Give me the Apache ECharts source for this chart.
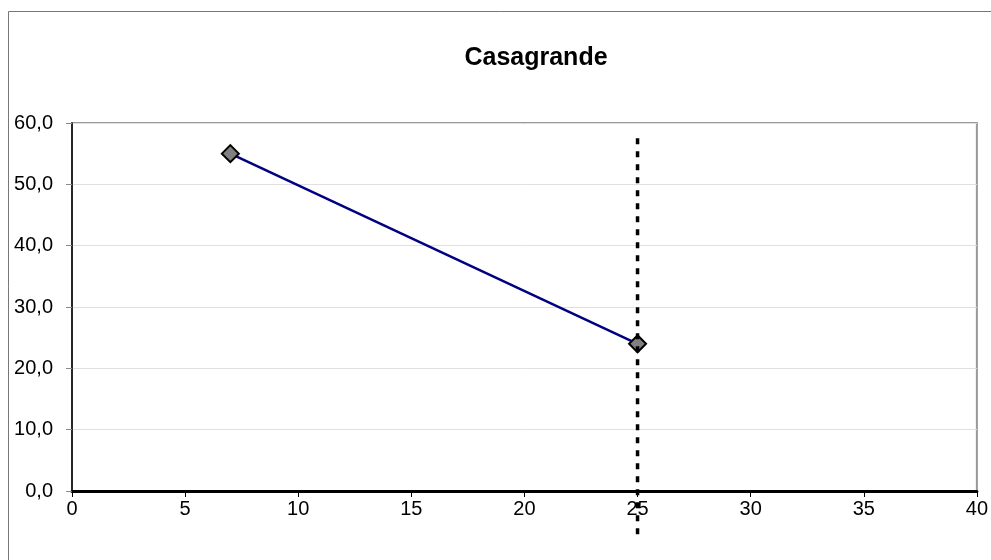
<!DOCTYPE html>
<html>
<head>
<meta charset="utf-8">
<script src="https://cdn.jsdelivr.net/npm/echarts@6/dist/echarts.min.js"></script>
<style>html,body{margin:0;padding:0;background:#fff}#c{width:991px;height:560px}</style>
</head>
<body>
<div id="c"></div>
<script>
var titleText = "Casagrande";
var xValues = [7, 25];
var yValues = [55, 24];
var limitX = [25, 25];
var limitY = [57.5, -7.5];

var chart = echarts.init(document.getElementById('c'));
chart.setOption({
  animation: false,
  backgroundColor: '#fff',
  title: {
    text: titleText, left: 531, top: 41, textAlign: 'center',
    textStyle: {fontFamily: 'Liberation Sans, Arial', fontSize: 25, fontWeight: 'bold', color: '#000'}
  },
  graphic: [{
    type: 'rect', shape: {x: 8.5, y: 11.5, width: 1000, height: 600},
    style: {fill: 'none', stroke: '#777', lineWidth: 1}, z: 0
  }],
  grid: {left: 72, right: 14, top: 123, bottom: 69, show: true, borderColor: '#999', borderWidth: 2},
  xAxis: {
    type: 'value', min: 0, max: 40, interval: 5,
    axisLine: {show: true, onZero: true, lineStyle: {color: '#000', width: 3}},
    axisTick: {show: true, length: 6, lineStyle: {color: '#000'}},
    axisLabel: {fontFamily: 'Liberation Sans, Arial', fontSize: 20, color: '#000', margin: 8},
    splitLine: {show: false}
  },
  yAxis: {
    type: 'value', min: 0, max: 60, interval: 10,
    axisLine: {show: true, lineStyle: {color: '#000', width: 1.5}},
    axisTick: {show: true, length: 6, lineStyle: {color: '#888'}},
    axisLabel: {fontFamily: 'Liberation Sans, Arial', fontSize: 20, color: '#000', margin: 19,
      formatter: function (v) { return v.toFixed(1).replace('.', ','); }},
    splitLine: {show: true, lineStyle: {color: '#e0e0e0', width: 1}}
  },
  series: [{
    type: 'line',
    data: xValues.map(function (x, i) { return [x, yValues[i]]; }),
    symbol: 'diamond', symbolSize: 17,
    lineStyle: {color: '#000080', width: 2.5},
    itemStyle: {color: '#808080', borderColor: '#000', borderWidth: 2},
    z: 3
  }, {
    type: 'line', clip: false,
    data: limitX.map(function (x, i) { return [x, limitY[i]]; }),
    symbol: 'none',
    lineStyle: {color: '#000', width: 3.5, type: [6, 7]},
    z: 4
  }]
});
</script>
</body>
</html>
